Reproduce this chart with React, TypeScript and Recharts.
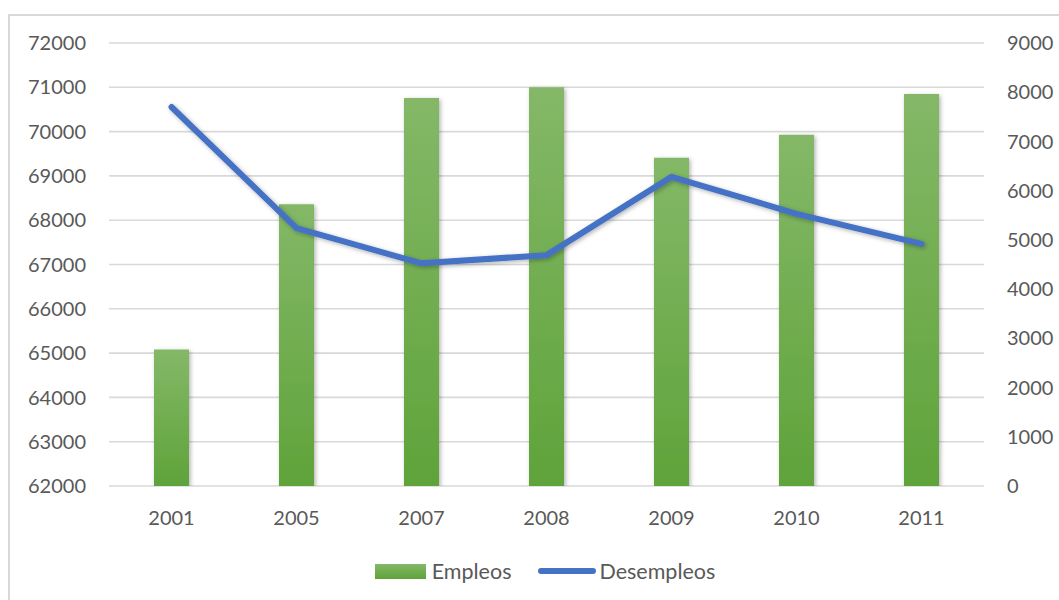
import React from 'react';
import { ComposedChart, Bar, Line, XAxis, YAxis, CartesianGrid, Legend } from 'recharts';

const years = ['2001', '2005', '2007', '2008', '2009', '2010', '2011'];
const empleos = [65080, 68360, 70760, 71000, 69410, 69930, 70850];
const desempleos = [7700, 5240, 4525, 4690, 6280, 5530, 4920];
const leftTicks = [62000, 63000, 64000, 65000, 66000, 67000, 68000, 69000, 70000, 71000, 72000];
const rightTicks = [0, 1000, 2000, 3000, 4000, 5000, 6000, 7000, 8000, 9000];

const data = years.map((y, i) => ({ year: y, Empleos: empleos[i], Desempleos: desempleos[i] }));

const FONT = 'Lato, "Open Sans", sans-serif';
const TEXT = '#595959';

const LegendContent = () => (
  <div
    style={{
      width: 1059,
      height: 28,
      display: 'flex',
      alignItems: 'center',
      justifyContent: 'center',
      paddingLeft: 31,
      boxSizing: 'border-box',
      fontFamily: FONT,
      fontSize: 21.5,
      color: TEXT,
    }}
  >
    <div style={{ width: 51, height: 15, background: 'linear-gradient(#84b867, #5fa33a)', marginRight: 6 }} />
    <span style={{ marginRight: 27 }}>Empleos</span>
    <div style={{ width: 58, height: 6, borderRadius: 3, background: '#4472c4', marginRight: 3 }} />
    <span>Desempleos</span>
  </div>
);

export default function App() {
  return (
    <div style={{ position: 'absolute', left: 0, top: 0, width: 1059, height: 600, overflow: 'hidden', background: '#fff' }}>
      <div style={{ position: 'absolute', left: 8, top: 14, width: 1200, height: 800, border: '2px solid #d9d9d9' }} />
      <ComposedChart
        width={1059}
        height={600}
        data={data}
        margin={{ top: 43, right: 0, bottom: 36, left: 0 }}
        barCategoryGap={0}
      >
        <defs>
          <linearGradient id="barGrad" x1="0" y1="0" x2="0" y2="1">
            <stop offset="0%" stopColor="#84b867" />
            <stop offset="100%" stopColor="#5fa33a" />
          </linearGradient>
          <filter id="shadow" x="-30%" y="-10%" width="160%" height="130%">
            <feDropShadow dx="1.5" dy="1.5" stdDeviation="2" floodColor="#000" floodOpacity="0.3" />
          </filter>
        </defs>
        <CartesianGrid vertical={false} stroke="#d9d9d9" strokeWidth={1.6} yAxisId="left" />
        <XAxis
          dataKey="year"
          axisLine={false}
          tickLine={false}
          tickSize={0}
          tickMargin={25}
          height={50}
          tick={{ fill: TEXT, fontSize: 20, fontFamily: FONT }}
        />
        <YAxis
          yAxisId="left"
          orientation="left"
          domain={[62000, 72000]}
          ticks={leftTicks}
          allowDataOverflow
          axisLine={false}
          tickLine={false}
          tickSize={0}
          tickMargin={23}
          width={109}
          tick={{ fill: TEXT, fontSize: 20, fontFamily: FONT }}
        />
        <YAxis
          yAxisId="right"
          orientation="right"
          domain={[0, 9000]}
          ticks={rightTicks}
          axisLine={false}
          tickLine={false}
          tickSize={0}
          tickMargin={23}
          width={75}
          tick={{ fill: TEXT, fontSize: 20, fontFamily: FONT, textAnchor: 'start' }}
        />
        <Legend verticalAlign="bottom" content={<LegendContent />} wrapperStyle={{ left: 0, top: 557, width: 1059 }} />
        <Bar
          yAxisId="left"
          dataKey="Empleos"
          barSize={35}
          fill="url(#barGrad)"
          filter="url(#shadow)"
          isAnimationActive={false}
        />
        <Line
          yAxisId="right"
          dataKey="Desempleos"
          type="linear"
          stroke="#4472c4"
          strokeWidth={6}
          strokeLinecap="round"
          strokeLinejoin="round"
          dot={false}
          activeDot={false}
          filter="url(#shadow)"
          isAnimationActive={false}
        />
      </ComposedChart>
    </div>
  );
}
